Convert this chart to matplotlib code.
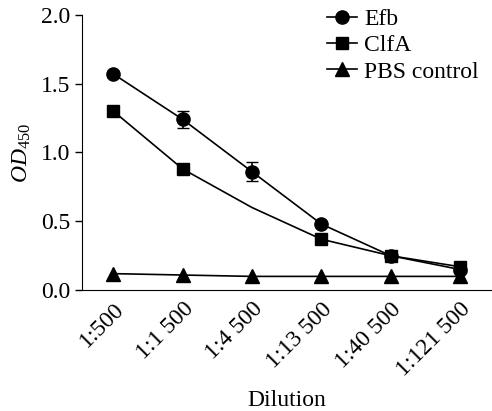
import numpy as np
import matplotlib
matplotlib.use('Agg')
from matplotlib import pyplot as plt

plt.rcParams['font.family'] = ['Liberation Serif', 'DejaVu Serif']
plt.rcParams['mathtext.fontset'] = 'custom'
plt.rcParams['mathtext.rm'] = 'Liberation Serif'
plt.rcParams['mathtext.it'] = 'Liberation Serif:italic'

dilutions = ['1:500', '1:1 500', '1:4 500', '1:13 500', '1:40 500', '1:121 500']
efb = [1.57, 1.24, 0.86, 0.48, 0.25, 0.15]
efb_err = [0.02, 0.06, 0.07, 0.02, 0.02, 0.02]
clfa = [1.30, 0.88, 0.60, 0.37, 0.25, 0.17]
pbs = [0.12, 0.11, 0.10, 0.10, 0.10, 0.10]

x = np.arange(len(dilutions))

fig = plt.figure(figsize=(4.92, 4.11), dpi=100)
ax = fig.add_axes([0.167, 0.294, 0.833, 0.67])

ax.errorbar(x, efb, yerr=efb_err, fmt='none', ecolor='black', capsize=4, elinewidth=1.2)
h1, = ax.plot(x, efb, color='black', marker='o', markersize=9.5, lw=1.2, label='Efb')
# no marker drawn at 1:4 500 for ClfA in the original
h2, = ax.plot(x, clfa, color='black', marker='s', markersize=9, lw=1.2,
              markevery=[0, 1, 3, 4, 5], label='ClfA')
h3, = ax.plot(x, pbs, color='black', marker='^', markersize=9.5, lw=1.2, label='PBS control')

ax.set_xlim(-0.45, 5.46)
ax.set_ylim(0, 2.0)
ax.set_yticks([0, 0.5, 1.0, 1.5, 2.0])
ax.set_yticklabels(['0.0', '0.5', '1.0', '1.5', '2.0'], fontsize=17)
ax.set_xticks(x)
ax.set_xticklabels(dilutions, rotation=45, ha='right', rotation_mode='anchor', fontsize=17)
ax.tick_params(axis='x', length=0, pad=6)
ax.tick_params(axis='y', direction='out', length=5, width=1)
ax.spines['top'].set_visible(False)
ax.spines['right'].set_visible(False)
ax.set_xlabel('Dilution', fontsize=17, labelpad=7)
ax.set_ylabel('$\\mathit{OD}_{450}$', fontsize=17, labelpad=6)

leg = ax.legend(handles=[h1, h2, h3], loc='upper right', bbox_to_anchor=(1.02, 1.10),
                frameon=False, fontsize=17, handlelength=1.3, handletextpad=0.3,
                labelspacing=0.2)

fig.savefig('out.png', dpi=100)
